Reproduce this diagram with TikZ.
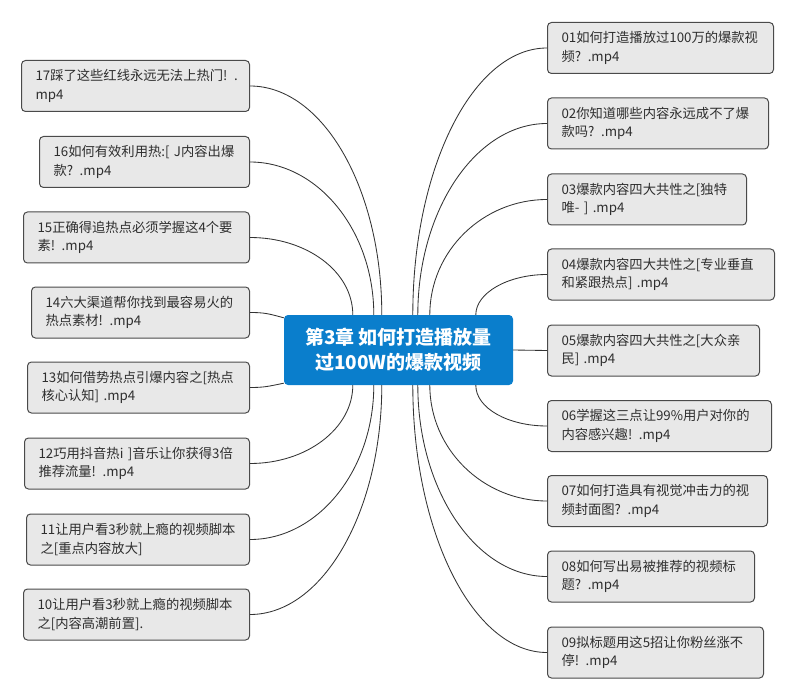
\documentclass[tikz,border=0pt]{standalone}
\usepackage{fontspec}
\setmainfont{Noto Sans CJK SC}
\usetikzlibrary{calc}
\definecolor{boxfill}{HTML}{E8E8E8}
\definecolor{boxline}{HTML}{4A4A4A}
\definecolor{txt}{HTML}{2E2E2E}
\definecolor{hubblue}{HTML}{0A7ECC}
\definecolor{wire}{HTML}{333333}
\begin{document}
\begin{tikzpicture}[x=1pt,y=-1pt,
  leaf/.style={draw=boxline, line width=1pt, fill=boxfill, rounded corners=4pt,
    minimum height=51pt, inner xsep=14pt, inner ysep=0pt, align=left, text=txt,
    font=\fontsize{13.3pt}{18.5pt}\selectfont},
  lleaf/.style={leaf, anchor=east},
  rleaf/.style={leaf, anchor=west},
  hub/.style={fill=hubblue, rounded corners=4pt, minimum width=229pt, minimum height=70pt,
    align=center, text=white, inner sep=0pt, font=\fontsize{19pt}{25pt}\selectfont\bfseries},
  wire/.style={draw=wire, line width=0.85pt}]
\useasboundingbox (0,0) rectangle (802,692);

\node[hub] (c) at (398.5,350) {第3章 如何打造播放量\\过100W的爆款视频};

% left leaves
\node[lleaf, text width=200pt] (b17) at (250,86) {\mbox{17踩了这些红线永远无法上热门! .}\\mp4};
\node[lleaf, text width=182pt] (b16) at (250,162) {\mbox{16如何有效利用热:[ J内容出爆}\\\mbox{款? .mp4}};
\node[lleaf, text width=198pt] (b15) at (250,237.5) {\mbox{15正确得追热点必须学握这4个要}\\\mbox{素! .mp4}};
\node[lleaf, text width=190pt] (b14) at (250,312.5) {\mbox{14六大渠道帮你找到最容易火的}\\\mbox{热点素材! .mp4}};
\node[lleaf, text width=194pt] (b13) at (250,387.5) {\mbox{13如何借势热点引爆内容之[热点}\\\mbox{核心认知] .mp4}};
\node[lleaf, text width=197pt] (b12) at (250,463.5) {\mbox{12巧用抖音热i ]音乐让你获得3倍}\\\mbox{推荐流量! .mp4}};
\node[lleaf, text width=195pt] (b11) at (250,539.5) {\mbox{11让用户看3秒就上瘾的视频脚本}\\\mbox{之[重点内容放大]}};
\node[lleaf, text width=198pt] (b10) at (250,614.5) {\mbox{10让用户看3秒就上瘾的视频脚本}\\\mbox{之[内容高潮前置].}};

% right leaves
\node[rleaf, text width=198pt] (b01) at (547,48) {\mbox{01如何打造播放过100万的爆款视}\\\mbox{频? .mp4}};
\node[rleaf, text width=193pt] (b02) at (547,123.5) {\mbox{02你知道哪些内容永远成不了爆}\\\mbox{款吗? .mp4}};
\node[rleaf, text width=171pt] (b03) at (547,199.5) {\mbox{03爆款内容四大共性之[独特}\\\mbox{唯- ] .mp4}};
\node[rleaf, text width=199pt] (b04) at (547,274.5) {\mbox{04爆款内容四大共性之[专业垂直}\\\mbox{和紧跟热点] .mp4}};
\node[rleaf, text width=184pt] (b05) at (547,350.5) {\mbox{05爆款内容四大共性之[大众亲}\\\mbox{民] .mp4}};
\node[rleaf, text width=196pt] (b06) at (547,426) {\mbox{06学握这三点让99\%用户对你的}\\\mbox{内容感兴趣! .mp4}};
\node[rleaf, text width=192pt] (b07) at (547,501) {\mbox{07如何打造具有视觉冲击力的视}\\\mbox{频封面图? .mp4}};
\node[rleaf, text width=179pt] (b08) at (547,576.5) {\mbox{08如何写出易被推荐的视频标}\\\mbox{题? .mp4}};
\node[rleaf, text width=188pt] (b09) at (547,652.5) {\mbox{09拟标题用这5招让你粉丝涨不}\\\mbox{停! .mp4}};

% connectors, left
\draw[wire] ([xshift=98pt]c.north west) .. controls +(0,-126) and +(73,0) .. (b17.east);
\draw[wire] ([xshift=90pt]c.north west) .. controls +(0,-84) and +(68,0) .. (b16.east);
\draw[wire] ([xshift=69pt]c.north west) .. controls +(0,-43) and +(57,0) .. (b15.east);
\draw[wire] ([yshift=-3pt]c.north west) .. controls +(-15,-4) and +(15,0) .. (b14.east);
\draw[wire] ([yshift=2pt]c.south west) .. controls +(-15,3) and +(15,0) .. (b13.east);
\draw[wire] ([xshift=69pt]c.south west) .. controls +(0,43) and +(57,0) .. (b12.east);
\draw[wire] ([xshift=90pt]c.south west) .. controls +(0,85) and +(68,0) .. (b11.east);
\draw[wire] ([xshift=98pt]c.south west) .. controls +(0,126) and +(73,0) .. (b10.east);
% connectors, right
\draw[wire] ([xshift=129pt]c.north west) .. controls +(0,-147) and +(-74,0) .. (b01.west);
\draw[wire] ([xshift=134pt]c.north west) .. controls +(0,-105) and +(-71,0) .. (b02.west);
\draw[wire] ([xshift=146pt]c.north west) .. controls +(0,-64) and +(-64,0) .. (b03.west);
\draw[wire] ([xshift=192pt]c.north west) .. controls +(0,-22) and +(-39,0) .. (b04.west);
\draw[wire] (c.east) -- (b05.west);
\draw[wire] ([xshift=192pt]c.south west) .. controls +(0,23) and +(-39,0) .. (b06.west);
\draw[wire] ([xshift=146pt]c.south west) .. controls +(0,64) and +(-64,0) .. (b07.west);
\draw[wire] ([xshift=134pt]c.south west) .. controls +(0,105) and +(-71,0) .. (b08.west);
\draw[wire] ([xshift=129pt]c.south west) .. controls +(0,147) and +(-74,0) .. (b09.west);
\end{tikzpicture}
\end{document}
